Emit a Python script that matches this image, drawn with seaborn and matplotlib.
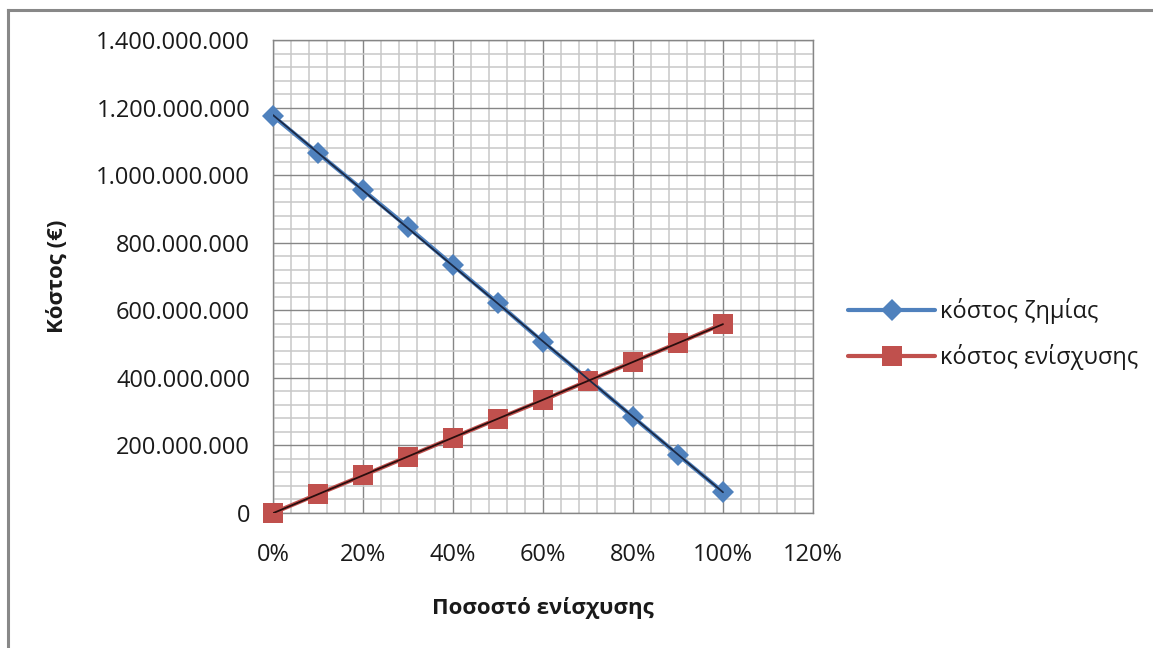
import matplotlib
matplotlib.use("Agg")
import matplotlib.pyplot as plt
from matplotlib.lines import Line2D
from matplotlib.ticker import FuncFormatter, MultipleLocator
import numpy as np
import pandas as pd
import seaborn as sns

# Share of reinforcement (fraction) and the two cost series in euros
reinforcement_share = [0.0, 0.1, 0.2, 0.3, 0.4, 0.5, 0.6, 0.7, 0.8, 0.9, 1.0]
damage_cost = [1_175_000_000, 1_065_000_000, 956_000_000, 846_000_000, 733_000_000,
               621_000_000, 506_000_000, 396_000_000, 284_000_000, 172_000_000, 62_000_000]
reinforcement_cost = [0, 56_000_000, 111_000_000, 167_000_000, 223_000_000,
                      279_000_000, 334_000_000, 391_000_000, 447_000_000,
                      503_000_000, 560_000_000]

series_names = ["κόστος ζημίας", "κόστος ενίσχυσης"]
x_label = "Ποσοστό ενίσχυσης"
y_label = "Κόστος (€)"

BLUE = "#4F81BD"
RED = "#C0504D"
BLUE_TREND = "#1B2A47"
RED_TREND = "#2A0E0E"
GRID_MAJOR = "#868686"
GRID_MINOR = "#C8C8C8"

sns.set_theme(style="white")
plt.rcParams["font.family"] = ["Open Sans", "DejaVu Sans"]
FS = 17
LABEL_FS = 16

df = pd.DataFrame({
    "share": reinforcement_share * 2,
    "cost": damage_cost + reinforcement_cost,
    "series": [series_names[0]] * len(damage_cost) + [series_names[1]] * len(reinforcement_cost),
})

fig = plt.figure(figsize=(11.53, 6.48), dpi=100)
ax = fig.add_axes([273 / 1153, 1 - 513 / 648, 540 / 1153, 473 / 648])

# Series lines with markers
sns.lineplot(data=df[df.series == series_names[0]], x="share", y="cost",
             color=BLUE, lw=3.0, marker="D", markersize=11.5, markeredgewidth=0,
             ax=ax, legend=False, zorder=3, clip_on=False)
sns.lineplot(data=df[df.series == series_names[1]], x="share", y="cost",
             color=RED, lw=3.0, marker="s", markersize=14, markeredgewidth=0,
             ax=ax, legend=False, zorder=3, clip_on=False)

# Linear trend lines
sns.regplot(x=np.array(reinforcement_share), y=np.array(damage_cost), scatter=False,
            ci=None, truncate=True, ax=ax, line_kws=dict(color=BLUE_TREND, lw=1.3, zorder=4))
sns.regplot(x=np.array(reinforcement_share), y=np.array(reinforcement_cost), scatter=False,
            ci=None, truncate=True, ax=ax, line_kws=dict(color=RED_TREND, lw=1.3, zorder=4))

ax.set_xlim(0, 1.2)
ax.set_ylim(0, 1_400_000_000)
ax.xaxis.set_major_locator(MultipleLocator(0.2))
ax.xaxis.set_minor_locator(MultipleLocator(0.04))
ax.yaxis.set_major_locator(MultipleLocator(200_000_000))
ax.yaxis.set_minor_locator(MultipleLocator(40_000_000))
ax.xaxis.set_major_formatter(FuncFormatter(lambda v, p: f"{v * 100:.0f}%"))
ax.yaxis.set_major_formatter(FuncFormatter(lambda v, p: f"{int(round(v)):,}".replace(",", ".")))

ax.set_axisbelow(True)
ax.grid(which="minor", color=GRID_MINOR, lw=1.1)
ax.grid(which="major", color=GRID_MAJOR, lw=1.0)
for s in ax.spines.values():
    s.set_color(GRID_MAJOR)
    s.set_linewidth(1.0)

ax.tick_params(axis="both", which="major", direction="out", length=5.5, width=1.0,
               color=GRID_MAJOR, labelsize=FS, labelcolor="#1a1a1a")
ax.tick_params(axis="x", which="major", pad=16)
ax.tick_params(axis="y", which="major", pad=11)
ax.tick_params(which="minor", length=0)

ax.set_xlabel(x_label, fontsize=LABEL_FS, fontweight="bold", color="#1a1a1a")
ax.set_ylabel(y_label, fontsize=LABEL_FS, fontweight="bold", color="#1a1a1a")
ax.xaxis.set_label_coords(0.5, -0.178)
ax.yaxis.set_label_coords(-0.38, 0.5)

handles = [
    Line2D([], [], color=BLUE, lw=3.0, marker="D", markersize=11.5, markeredgewidth=0),
    Line2D([], [], color=RED, lw=3.0, marker="s", markersize=14, markeredgewidth=0),
]
fig.legend(handles, series_names, loc="center left",
           bbox_to_anchor=(848 / 1153, 1 - 334 / 648), frameon=False,
           fontsize=FS, handlelength=3.7, handletextpad=0.2, labelspacing=0.85,
           borderaxespad=0, borderpad=0, labelcolor="#1a1a1a")

# Chart frame (open on the right and bottom edges)
fig.add_artist(Line2D([8 / 1153, 8 / 1153], [0, 1 - 10 / 648], transform=fig.transFigure,
                      color="#888888", lw=2.2, solid_capstyle="projecting"))
fig.add_artist(Line2D([8 / 1153, 1], [1 - 10 / 648, 1 - 10 / 648], transform=fig.transFigure,
                      color="#888888", lw=2.2, solid_capstyle="projecting"))

fig.savefig("out.png", dpi=100, facecolor="white")
